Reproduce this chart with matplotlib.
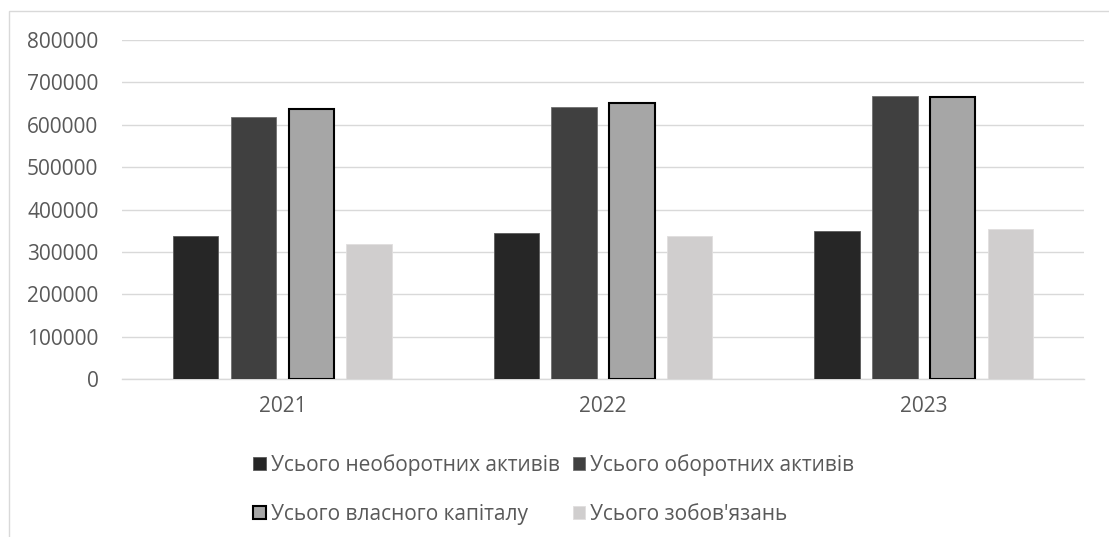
import matplotlib.pyplot as plt
from matplotlib.patches import Rectangle
import numpy as np

# дані
roky = ['2021', '2022', '2023']
neoborotni = [338000, 346000, 349000]
oborotni = [618000, 641000, 668000]
vlasnyi_kapital = [637000, 651000, 665000]
zobovyazannya = [320000, 338000, 354000]
yticks = [0, 100000, 200000, 300000, 400000, 500000, 600000, 700000, 800000]

serii = [
    ("Усього необоротних активів", neoborotni, '#262626', '#5a5a5a', 0.6),
    ("Усього оборотних активів", oborotni, '#404040', '#707070', 0.6),
    ("Усього власного капіталу", vlasnyi_kapital, '#a6a6a6', '#000000', 1.5),
    ("Усього зобов'язань", zobovyazannya, '#d0cece', '#e0dede', 0.6),
]

plt.rcParams['font.family'] = ['Open Sans', 'DejaVu Sans']

fig = plt.figure(figsize=(11.09, 5.37), dpi=100)
ax = fig.add_axes([0.110, 0.2937, 0.8675, 0.6318])

# рамка діаграми
fig.patches.append(Rectangle((9 / 1109, -0.1), 1.2, (537 - 11) / 537 + 0.1,
                             transform=fig.transFigure, fill=False,
                             edgecolor='#d9d9d9', linewidth=1.0))

x = np.arange(len(roky))
w = 0.1415
krok = 0.18
for i, (nazva, znach, kolir, kraj, lw) in enumerate(serii):
    ax.bar(x + (i - 1.5) * krok, znach, width=w, color=kolir,
           edgecolor=kraj, linewidth=lw, label=nazva, zorder=3)

ax.set_xlim(-0.5, 2.5)
ax.set_ylim(0, 800000)
ax.set_yticks(yticks)
ax.set_yticklabels([str(v) for v in yticks])
ax.set_xticks(x)
ax.set_xticklabels(roky)
ax.grid(axis='y', color='#d9d9d9', linewidth=1.0, zorder=0)
for s in ['top', 'right', 'left']:
    ax.spines[s].set_visible(False)
ax.spines['bottom'].set_color('#d9d9d9')
ax.spines['bottom'].set_linewidth(1.0)
ax.tick_params(axis='both', length=0, labelsize=15, colors='#595959')
ax.tick_params(axis='y', pad=17)
ax.tick_params(axis='x', pad=12)

# легенда по рядках: matplotlib заповнює по стовпцях, тому переставляємо
h, l = ax.get_legend_handles_labels()
poryadok = [0, 2, 1, 3]
leg = fig.legend([h[i] for i in poryadok], [l[i] for i in poryadok],
                 loc='center', bbox_to_anchor=(0.4995, 0.089), ncol=2,
                 frameon=False, fontsize=15, handlelength=0.6,
                 handleheight=0.6, handletextpad=0.25, columnspacing=0.6,
                 labelspacing=1.35)
for t in leg.get_texts():
    t.set_color('#595959')

fig.savefig('out.png', dpi=100)
